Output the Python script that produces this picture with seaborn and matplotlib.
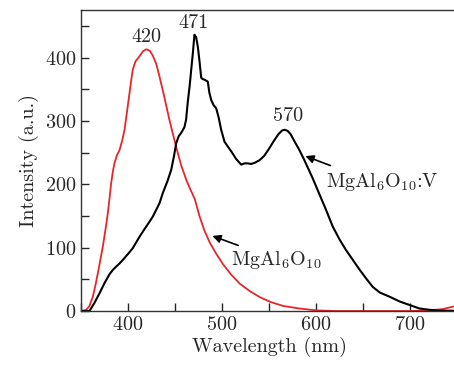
import pandas as pd
import matplotlib
matplotlib.use("Agg")
import matplotlib.pyplot as plt
from matplotlib.ticker import MultipleLocator
import seaborn as sns

# MgAl6O10 (red) emission spectrum
red_wl = [350, 355.5, 359, 362.6, 365, 367.9, 370.5, 373.2, 376, 378.5, 380.5,
          382.1, 384, 385.6, 388, 391, 394, 396.3, 399, 401.6, 403.5, 405.1,
          408, 412.2, 416, 419.4, 423, 426.4, 430, 433.5, 438, 444, 449,
          453, 457, 462, 466, 471, 476, 481, 487, 494, 501, 510, 519, 530,
          540, 552, 565, 582, 600, 620, 660, 700, 720, 735, 746]
red_int = [0, 1.6, 8, 22.6, 38, 59.5, 80, 101.6, 128, 154, 180,
           202, 221, 233, 245, 254, 270, 286, 315, 344, 365, 381,
           394, 402, 410, 413, 411, 403, 390, 370, 342, 302, 272,
           249, 228, 207, 193, 177, 150, 128, 108, 90, 74, 57, 43, 31,
           22, 14, 8, 4, 1, 0, 0, 0, 1, 3, 7]

# MgAl6O10:V (black) emission spectrum
black_wl = [350, 359, 364, 369.7, 375, 380.3, 384, 387.4, 391, 394.5, 400,
            405, 412.2, 417, 422.9, 426.4, 433.5, 437, 442, 446, 449, 451.3,
            454, 456.6, 460, 461.8, 463.6, 465.5, 467.2, 469, 470.7, 472.5,
            474.3, 476, 477.9, 479.5, 481.4, 484.9, 486.5, 488.5, 491, 493.8,
            496.5, 499.1, 502.7, 506, 509.8, 515, 520.4, 524, 527.4, 531,
            535, 540, 545, 550, 555, 560, 564, 567, 570, 573, 577, 582, 587,
            592, 596.6, 602, 610, 617.9, 625, 632, 639.2, 646, 653, 660.4,
            668, 678.2, 689, 699.5, 710, 720, 731, 740, 746]
black_int = [0, 0, 12, 28, 44, 58, 65, 70, 75, 80.6, 90,
             99, 117, 128, 141, 149, 170, 186, 205, 223, 245, 265,
             276, 281, 290, 302, 330, 354, 380, 407, 436, 432,
             417, 395, 368, 366, 365, 362, 345, 333, 325, 320,
             305, 286, 267, 260, 252, 240, 231, 233, 233, 232,
             234, 238, 245, 256, 268, 279, 285, 286, 284, 279, 268, 255, 240,
             224, 209, 190, 162, 133, 113, 96, 80.6, 66, 52, 38,
             29, 22.6, 15, 9.5, 4, 2, 0.5, 0.5, 0.5]

peak_labels = ["420", "471", "570"]
peak_x = [419.5, 470, 570]
peak_y = [432, 455, 308]

red = pd.DataFrame({"Wavelength": red_wl, "Intensity": red_int})
black = pd.DataFrame({"Wavelength": black_wl, "Intensity": black_int})

sns.set_style("ticks")
plt.rcParams["font.family"] = ["cmr10", "DejaVu Serif"]
plt.rcParams["mathtext.fontset"] = "cm"
plt.rcParams["axes.formatter.use_mathtext"] = True
plt.rcParams["font.size"] = 14

fig = plt.figure(figsize=(4.54, 3.70), dpi=100)
ax = fig.add_axes([81 / 454, 59 / 370, 376 / 454, 301 / 370])

sns.lineplot(data=red, x="Wavelength", y="Intensity", color="#e8262a",
             linewidth=1.3, ax=ax, errorbar=None)
sns.lineplot(data=black, x="Wavelength", y="Intensity", color="black",
             linewidth=1.5, ax=ax, errorbar=None)

ax.set_xlim(350, 750)
ax.set_ylim(0, 475)
ax.xaxis.set_major_locator(MultipleLocator(100))
ax.xaxis.set_minor_locator(MultipleLocator(50))
ax.yaxis.set_major_locator(MultipleLocator(100))
ax.yaxis.set_minor_locator(MultipleLocator(50))
ax.tick_params(which="both", direction="in", labelsize=14.5, width=1,
               top=False, right=False)
ax.tick_params(which="major", length=6)
ax.tick_params(which="minor", length=6)
for s in ax.spines.values():
    s.set_linewidth(1)
    s.set_color("#333333")

ax.set_xlabel("Wavelength (nm)", fontsize=14.5, labelpad=2)
ax.set_ylabel("Intensity (a.u.)", fontsize=14.5, labelpad=4)

for lab, x, y in zip(peak_labels, peak_x, peak_y):
    ax.text(x, y, lab, ha="center", va="center", fontsize=14.5)

ax.annotate("", xy=(586, 246), xytext=(618, 228),
            arrowprops=dict(arrowstyle="-|>", color="black", lw=1.2,
                            mutation_scale=12))
ax.text(611, 204, r"MgAl$_6$O$_{10}$:V", ha="left", va="center", fontsize=14.5)

ax.annotate("", xy=(487, 120), xytext=(520, 102),
            arrowprops=dict(arrowstyle="-|>", color="black", lw=1.2,
                            mutation_scale=12))
ax.text(510, 81, r"MgAl$_6$O$_{10}$", ha="left", va="center", fontsize=14.5)

fig.savefig("out.png", dpi=100)
